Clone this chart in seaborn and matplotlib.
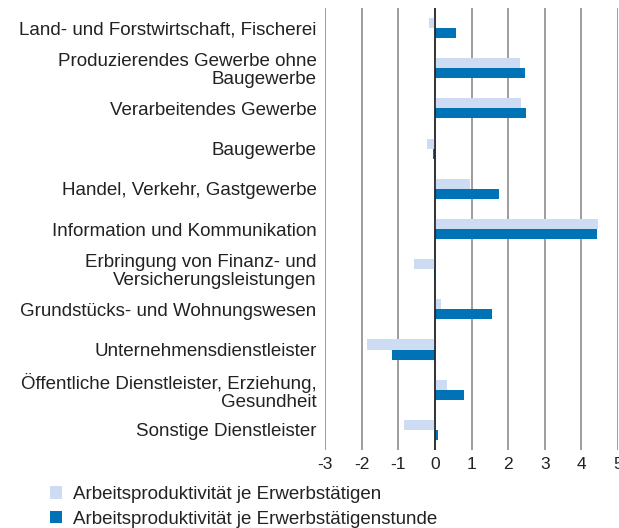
import pandas as pd
import numpy as np
import seaborn as sns
import matplotlib.pyplot as plt

# categories (top to bottom) and the two series
branchen = [
    'Land- und Forstwirtschaft, Fischerei',
    'Produzierendes Gewerbe ohne\nBaugewerbe',
    'Verarbeitendes Gewerbe',
    'Baugewerbe',
    'Handel, Verkehr, Gastgewerbe',
    'Information und Kommunikation',
    'Erbringung von Finanz- und\nVersicherungsleistungen',
    'Grundstücks- und Wohnungswesen',
    'Unternehmensdienstleister',
    'Öffentliche Dienstleister, Erziehung,\nGesundheit',
    'Sonstige Dienstleister',
]
je_erwerbstaetigen = [-0.15, 2.32, 2.35, -0.21, 0.97, 4.45, -0.56, 0.17, -1.85, 0.33, -0.83]
je_stunde = [0.58, 2.46, 2.49, -0.05, 1.74, 4.42, -0.02, 1.55, -1.18, 0.79, 0.08]
serien = ['Arbeitsproduktivität je Erwerbstätigen',
          'Arbeitsproduktivität je Erwerbstätigenstunde']
xticks = [-3, -2, -1, 0, 1, 2, 3, 4, 5]

df = pd.DataFrame({
    'Branche': branchen * 2,
    'Wert': je_erwerbstaetigen + je_stunde,
    'Serie': [serien[0]] * len(branchen) + [serien[1]] * len(branchen),
})

sns.set_style('white')
plt.rcParams['font.family'] = ['Liberation Sans', 'DejaVu Sans']
plt.rcParams['text.color'] = '#222222'

fig = plt.figure(figsize=(6.19, 5.28), dpi=100)
ax = fig.add_axes([325 / 619, 1 - 450 / 528, 293 / 619, 442 / 528])

sns.barplot(data=df, y='Branche', x='Wert', hue='Serie', orient='h',
            palette=['#cddbf3', '#0072b6'], saturation=1, width=0.5,
            linewidth=0, ax=ax, zorder=3)

ax.set_xlim(-3, 5)
ax.set_ylim(10.5, -0.5)
ax.set_xticks(xticks)
ax.set_xticklabels([str(t) for t in xticks])
ax.grid(axis='x', color='#8c8c8c', linewidth=1.2, zorder=0)
ax.grid(axis='y', visible=False)
ax.axvline(0, color='#222222', linewidth=1.2, zorder=4)
for s in ax.spines.values():
    s.set_visible(False)
ax.set_xlabel('')
ax.set_ylabel('')
ax.tick_params(axis='x', length=0, pad=5, labelsize=12.5, labelcolor='#222222')
ax.tick_params(axis='y', length=0, pad=6, labelsize=13.5, labelcolor='#222222')
for lab in ax.get_yticklabels():
    lab.set_multialignment('right')
    lab.set_linespacing(1.05)

sns.move_legend(ax, loc='upper left', bbox_to_anchor=(50 / 619, 1 - 486 / 528),
                bbox_transform=fig.transFigure, frameon=False, title=None,
                fontsize=13.5, handlelength=0.64, handleheight=0.64,
                handletextpad=0.59, labelspacing=0.42, borderpad=0,
                borderaxespad=0)

fig.savefig('out.png', dpi=100)
